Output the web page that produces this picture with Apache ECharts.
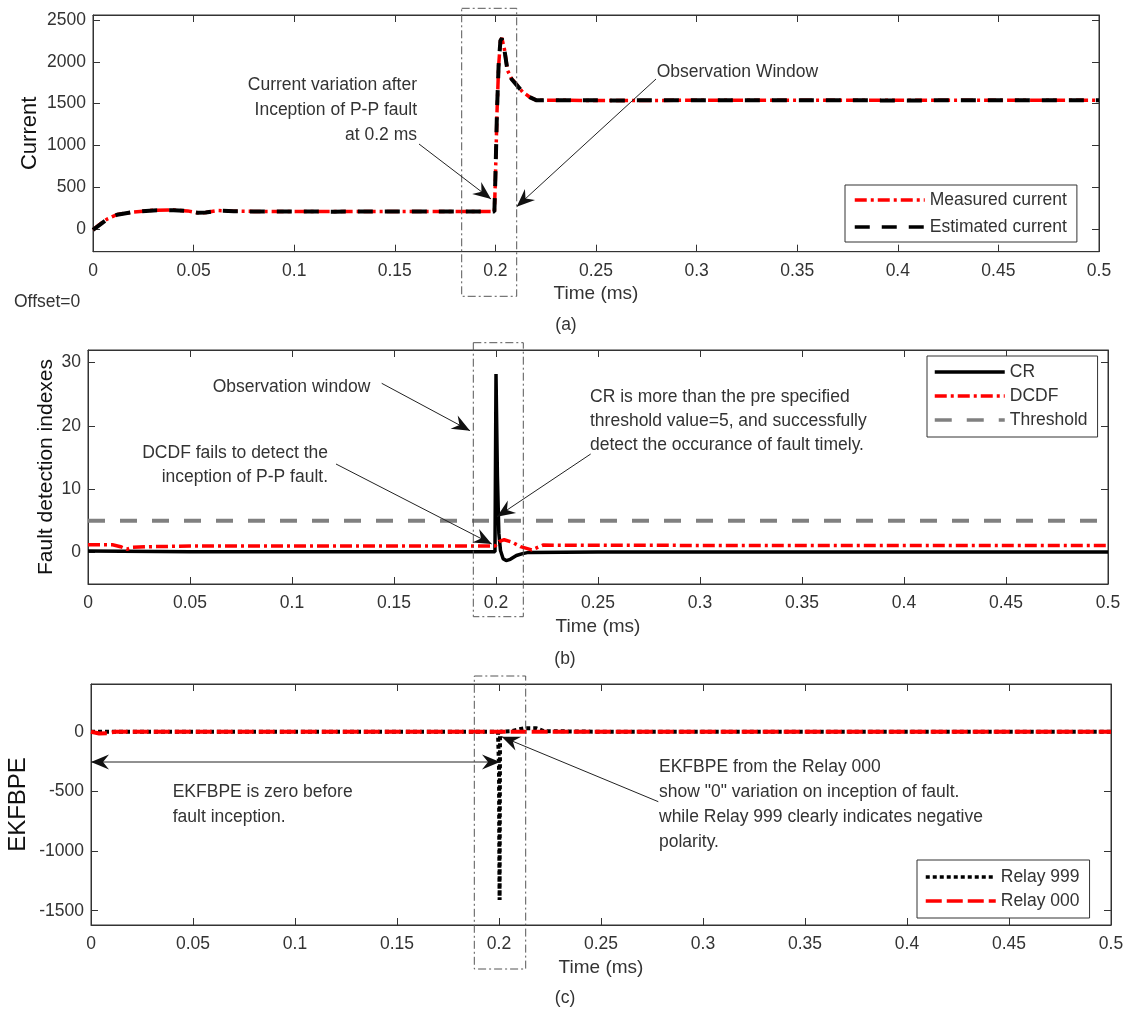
<!DOCTYPE html>
<html>
<head>
<meta charset="utf-8">
<title>Fault detection</title>
<script src="https://cdn.jsdelivr.net/npm/echarts@6.0.0/dist/echarts.min.js"></script>
<style>
  html, body { margin: 0; padding: 0; background: #fff; }
  #chart { width: 1130px; height: 1014px; }
</style>
</head>
<body>
<div id="chart"></div>
<script>
// ---- data (time in ms) ----
const currentTicks = [0, 500, 1000, 1500, 2000, 2500];
const indexTicks = [0, 10, 20, 30];
const ekfTicks = [-1500, -1000, -500, 0];

// (a) current
const timeA = [0, 0.003, 0.007, 0.012, 0.02, 0.03, 0.04, 0.047, 0.052, 0.056, 0.062, 0.07, 0.08, 0.1, 0.12,
  0.15, 0.18, 0.1995, 0.2, 0.2008, 0.2016, 0.2025, 0.2032, 0.2045, 0.206, 0.208, 0.2105, 0.2135, 0.217, 0.2205,
  0.23, 0.26, 0.3, 0.35, 0.4, 0.45, 0.5];
const measuredA = [-10, 50, 120, 175, 205, 225, 228, 218, 195, 198, 222, 215, 212, 210, 210,
  210, 210, 210, 600, 1400, 1950, 2250, 2285, 2150, 1900, 1800, 1730, 1640, 1580, 1540,
  1540, 1538, 1540, 1540, 1540, 1540, 1540];
const estimatedA = [-10, 45, 118, 172, 204, 224, 227, 217, 196, 199, 221, 214, 211, 210, 209,
  210, 210, 210, 620, 1420, 1960, 2255, 2280, 2140, 1895, 1795, 1725, 1640, 1578, 1540,
  1541, 1539, 1540, 1540, 1539, 1540, 1540];

// (b) fault detection indexes
const timeCR = [0, 0.05, 0.1, 0.15, 0.1995, 0.2, 0.2007, 0.2014, 0.2022, 0.2035, 0.205, 0.207, 0.21, 0.213, 0.216,
  0.25, 0.3, 0.35, 0.4, 0.45, 0.5];
const crValues = [0.2, 0.1, 0.1, 0.1, 0.1, 28.2, 12, 3, 0.3, -1.0, -1.3, -1.1, -0.5, -0.2, 0,
  0.05, 0.05, 0.05, 0.05, 0.05, 0.05];
const timeDCDF = [0, 0.012, 0.016, 0.019, 0.022, 0.03, 0.05, 0.1, 0.15, 0.1995, 0.2015, 0.204, 0.208, 0.212,
  0.2175, 0.223, 0.3, 0.4, 0.5];
const dcdfValues = [1.2, 1.2, 0.9, 0.5, 0.8, 0.9, 1.0, 1.0, 1.0, 1.0, 1.7, 2.0, 1.6, 0.9,
  0.4, 1.15, 1.1, 1.1, 1.1];
const timeThreshold = [0, 0.5];
const thresholdValues = [5, 5];

// (c) EKFBPE
const timeRelay999 = [0, 0.05, 0.1, 0.15, 0.1995, 0.2, 0.2001, 0.2002, 0.2003, 0.2004, 0.2005, 0.206, 0.21,
  0.213, 0.218, 0.222, 0.25, 0.3, 0.4, 0.5];
const relay999 = [0, 0, 0, 0, 0, -300, -800, -1200, -1410, -700, 0, 5, 20,
  30, 30, 5, 0, 0, 0, 0];
const timeRelay000 = [0, 0.004, 0.008, 0.012, 0.05, 0.1, 0.15, 0.2, 0.25, 0.3, 0.4, 0.5];
const relay000 = [0, -15, -12, 0, 0, 0, 0, 0, 0, 0, 0, 0];

// ---- helpers ----
const FONT = "'Liberation Sans', Arial, sans-serif";
const INK = "#333";
const zip = (t, v) => t.map((x, i) => [x, v[i]]);
const fmtTime = (v) => String(+v.toFixed(2));
const fmtPlain = (v) => String(Math.round(v));

function xAxesFor(g) {
  return [
    {
      type: "value", gridIndex: g, position: "bottom", min: 0, max: 0.5, interval: 0.05,
      name: "Time (ms)", nameLocation: "middle", nameGap: 33,
      nameTextStyle: { fontSize: 19, color: INK, fontFamily: FONT },
      axisLine: { show: true, onZero: false, lineStyle: { color: INK, width: 1 } },
      axisTick: { show: true, inside: true, length: 7, lineStyle: { color: INK } },
      axisLabel: { color: INK, fontSize: 17.5, fontFamily: FONT, margin: 10, formatter: fmtTime },
      splitLine: { show: false },
    },
    {
      type: "value", gridIndex: g, position: "top", min: 0, max: 0.5, interval: 0.05,
      axisLine: { show: true, onZero: false, lineStyle: { color: INK, width: 1 } },
      axisTick: { show: true, inside: true, length: 7, lineStyle: { color: INK } },
      axisLabel: { show: false },
      splitLine: { show: false },
    },
  ];
}

function yAxesFor(g, min, max, ticks, name, nameSize, nameGap) {
  return [
    {
      type: "value", gridIndex: g, position: "left", min, max,
      name, nameLocation: "middle", nameGap, nameRotate: 90, nameMoveOverlap: false,
      nameTextStyle: { fontSize: nameSize, color: "#111", fontFamily: FONT },
      axisLine: { show: true, onZero: false, lineStyle: { color: INK, width: 1 } },
      axisTick: { show: true, inside: true, length: 7, customValues: ticks, lineStyle: { color: INK } },
      axisLabel: { color: INK, fontSize: 17.5, fontFamily: FONT, margin: 7, customValues: ticks, formatter: fmtPlain },
      splitLine: { show: false },
    },
    {
      type: "value", gridIndex: g, position: "right", min, max,
      axisLine: { show: true, onZero: false, lineStyle: { color: INK, width: 1 } },
      axisTick: { show: true, inside: true, length: 7, customValues: ticks, lineStyle: { color: INK } },
      axisLabel: { show: false },
      splitLine: { show: false },
    },
  ];
}

function line(name, data, axisIdx, color, width, dash, z) {
  return {
    name, type: "line", data, xAxisIndex: axisIdx, yAxisIndex: axisIdx,
    symbol: "none", color, z,
    lineStyle: { color, width, type: dash },
    itemStyle: { color },
  };
}

function head(fx, fy, tx, ty) {
  const L = 18, W = 7.5, N = 6;
  const dx = tx - fx, dy = ty - fy, len = Math.hypot(dx, dy);
  const ux = dx / len, uy = dy / len, nx = -uy, ny = ux;
  const bx = tx - ux * L, by = ty - uy * L;
  return {
    type: "polygon", z: 100, silent: true,
    shape: { points: [[tx, ty], [bx + nx * W, by + ny * W], [tx - ux * (L - N), ty - uy * (L - N)], [bx - nx * W, by - ny * W]] },
    style: { fill: "#111" },
  };
}

function arrow(x1, y1, x2, y2, both) {
  const els = [{ type: "line", z: 100, silent: true, shape: { x1, y1, x2, y2 }, style: { stroke: "#222", lineWidth: 1 } }];
  els.push(head(x1, y1, x2, y2));
  if (both) els.push(head(x2, y2, x1, y1));
  return els;
}

function textLines(lines, x, y0, dy, align) {
  return lines.map((t, i) => ({
    type: "text", z: 100, silent: true, x, y: y0 + i * dy,
    style: { text: t, fill: INK, font: "17.5px " + FONT, textAlign: align, textVerticalAlign: "middle" },
  }));
}

function windowBox(x, y, w, h) {
  return {
    type: "rect", z: 100, silent: true, shape: { x, y, width: w, height: h },
    style: { fill: "none", stroke: "#555", lineWidth: 1, lineDash: [8, 3, 2, 3] },
  };
}

function legendAt(left, top, names, padding, itemGap) {
  return {
    data: names, orient: "vertical", left, top, padding, itemGap,
    itemWidth: 70, itemHeight: 14, selectedMode: false,
    itemStyle: { opacity: 0 },
    lineStyle: { width: 3.5 },
    backgroundColor: "#fff", borderColor: INK, borderWidth: 1, borderRadius: 0,
    textStyle: { fontSize: 17.5, fontFamily: FONT, color: INK, lineHeight: 20 },
  };
}

const chart = echarts.init(document.getElementById("chart"), null, { renderer: "canvas" });

const graphics = [
  // panel (a)
  windowBox(461.7, 8.3, 55, 288),
  ...textLines(["Current variation after", "Inception of P-P fault", "at 0.2 ms"], 417, 85, 25, "right"),
  ...arrow(419, 144, 491, 199),
  ...textLines(["Observation Window"], 656.7, 71.7, 25, "left"),
  ...arrow(656, 79, 516.7, 206.7),
  ...textLines(["Offset=0"], 14, 301.7, 25, "left"),
  ...textLines(["(a)"], 566, 325, 25, "center"),
  // panel (b)
  windowBox(473.3, 342.7, 50, 274),
  ...textLines(["Observation window"], 212.7, 386.7, 25, "left"),
  ...arrow(381.7, 383.3, 470, 430.7),
  ...textLines(["DCDF fails to detect the", "inception of P-P fault."], 328, 453.3, 23.4, "right"),
  ...arrow(336, 464, 491.7, 544),
  ...textLines(["CR is more than the pre specified", "threshold value=5, and successfully",
    "detect the occurance of fault timely."], 590, 396.7, 24, "left"),
  ...arrow(590.7, 454, 497, 516.7),
  ...textLines(["(b)"], 565, 659, 25, "center"),
  // panel (c)
  windowBox(474.3, 676, 51.4, 293),
  ...arrow(91, 762, 500, 762, true),
  ...textLines(["EKFBPE is zero before", "fault inception."], 172.7, 791.7, 25, "left"),
  ...arrow(658.3, 801.7, 501.7, 736.7),
  ...textLines(["EKFBPE from the Relay 000", "show \"0\" variation on inception of fault.",
    "while Relay 999 clearly indicates negative", "polarity."], 659, 766.7, 25, "left"),
  ...textLines(["(c)"], 565, 998, 25, "center"),
];

const option = {
  animation: false,
  backgroundColor: "#fff",
  grid: [
    { left: 93, top: 15, width: 1006, height: 236.7, show: true, borderColor: INK, borderWidth: 1, outerBoundsMode: "none" },
    { left: 88, top: 350, width: 1020, height: 234, show: true, borderColor: INK, borderWidth: 1, outerBoundsMode: "none" },
    { left: 91, top: 684, width: 1020, height: 241, show: true, borderColor: INK, borderWidth: 1, outerBoundsMode: "none" },
  ],
  xAxis: [...xAxesFor(0), ...xAxesFor(1), ...xAxesFor(2)],
  yAxis: [
    ...yAxesFor(0, -270, 2560, currentTicks, "Current", 22, 52),
    ...yAxesFor(1, -5, 32, indexTicks, "Fault detection indexes", 21, 31),
    ...yAxesFor(2, -1620, 400, ekfTicks, "EKFBPE", 24, 61),
  ],
  legend: [
    legendAt(845, 185, ["Measured current", "Estimated current"], [5, 10, 5, 8], 7),
    legendAt(927, 356, ["CR", "DCDF", "Threshold"], [6, 10, 7, 6], 4),
    legendAt(917, 860, ["Relay 999", "Relay 000"], [7, 10, 7, 7], 4),
  ],
  series: [
    line("Measured current", zip(timeA, measuredA), 0, "#ff0000", 3.5, [12, 4, 3, 4], 2),
    line("Estimated current", zip(timeA, estimatedA), 0, "#000000", 4, [15, 12], 3),
    line("CR", zip(timeCR, crValues), 2, "#000000", 3.5, "solid", 2),
    line("DCDF", zip(timeDCDF, dcdfValues), 2, "#ff0000", 3.5, [12, 4, 3, 4], 3),
    line("Threshold", zip(timeThreshold, thresholdValues), 2, "#808080", 4, [17, 15], 4),
    line("Relay 999", zip(timeRelay999, relay999), 4, "#000000", 4, [4, 3], 2),
    line("Relay 000", zip(timeRelay000, relay000), 4, "#ff0000", 4, [16, 5], 3),
  ],
  graphic: { elements: graphics },
};

chart.setOption(option);
</script>
</body>
</html>
